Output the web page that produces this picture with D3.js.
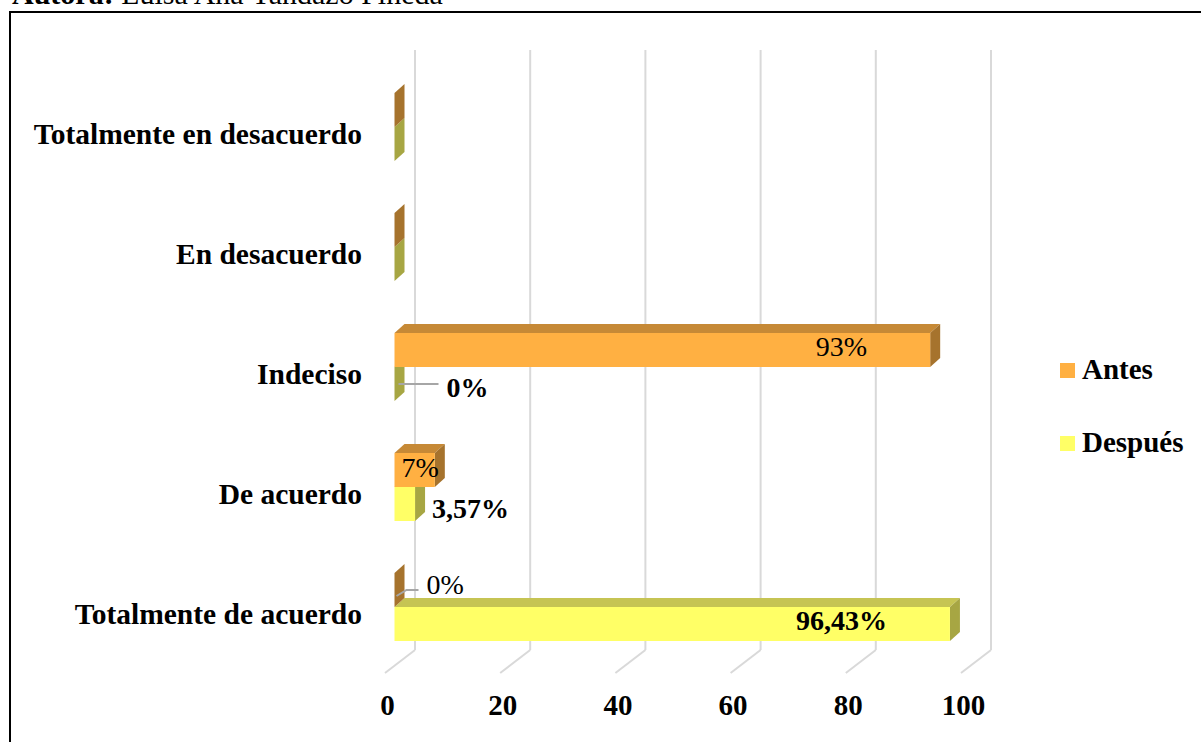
<!DOCTYPE html>
<html>
<head>
<meta charset="utf-8">
<script src="https://cdn.jsdelivr.net/npm/d3@7"></script>
<style>
  html, body { margin: 0; padding: 0; background: #fff; overflow: hidden; }
  svg { display: block; font-family: "Liberation Serif", "Times New Roman", serif; }
</style>
</head>
<body>
<div id="chart"></div>
<script>
// data
const categories = ["Totalmente en desacuerdo", "En desacuerdo", "Indeciso", "De acuerdo", "Totalmente de acuerdo"];
const antes = [0, 0, 93, 7, 0];
const despues = [0, 0, 0, 3.57, 96.43];
const antesLabels = [null, null, "93%", "7%", "0%"];
const despuesLabels = [null, null, "0%", "3,57%", "96,43%"];
const seriesNames = ["Antes", "Después"];
const xTicks = [0, 20, 40, 60, 80, 100];

const W = 1201, H = 742;

// colours: front / top / side of each bar
const colors = {
  Antes:   { front: "#FFB042", top: "#C68936", side: "#A6732D" },
  Después: { front: "#FFFF66", top: "#C6C453", side: "#A7A643" }
};

// 3d depth of the bars
const dx = 10, dy = -9;

const svg = d3.select("#chart").append("svg")
  .attr("width", W)
  .attr("height", H);

// header line (cut off at top, like the source page)
const head = svg.append("text")
  .attr("x", 12)
  .attr("y", 4)
  .style("font-size", "30px");
head.append("tspan").style("font-weight", "bold").text("Autora:");
head.append("tspan").text(" Luisa Ana Yandazo Pineda");

// frame
svg.append("rect")
  .attr("x", 10).attr("y", 12)
  .attr("width", 1400).attr("height", 900)
  .attr("fill", "none")
  .attr("stroke", "#000")
  .attr("stroke-width", 2);

// scales: x on the bars' front plane, back wall is shifted right
const x = d3.scaleLinear().domain([0, 100]).range([394.5, 970.5]);
const backShift = 20.5;
const y = d3.scaleBand().domain(categories).range([67, 667]).padding(0);
const barH = 34;

// back wall gridlines + floor diagonals
const grid = svg.append("g").attr("class", "grid");
grid.selectAll(".vline")
  .data(xTicks)
  .enter().append("line")
    .attr("x1", d => x(d) + backShift)
    .attr("x2", d => x(d) + backShift)
    .attr("y1", 50)
    .attr("y2", 650)
    .attr("stroke", "#D9D9D9")
    .attr("stroke-width", 2);
grid.selectAll(".dline")
  .data(xTicks)
  .enter().append("line")
    .attr("x1", d => x(d) + backShift)
    .attr("x2", d => x(d) + backShift - 30)
    .attr("y1", 650)
    .attr("y2", 673)
    .attr("stroke", "#D9D9D9")
    .attr("stroke-width", 2);

// x-axis labels
const xAxis = d3.axisBottom(x)
  .tickValues(xTicks)
  .tickSize(0)
  .tickPadding(0)
  .tickFormat(d3.format("d"));

const axisG = svg.append("g")
  .attr("transform", "translate(-7.5, 715)")
  .call(xAxis);
axisG.select(".domain").remove();
axisG.selectAll("text")
  .attr("y", 0)
  .attr("dy", 0)
  .attr("fill", "#000")
  .style("font-family", "'Liberation Serif', 'Times New Roman', serif")
  .style("font-size", "29px")
  .style("font-weight", "bold");

// category labels
svg.selectAll(".cat")
  .data(categories)
  .enter().append("text")
    .attr("class", "cat")
    .attr("x", 362)
    .attr("y", d => y(d) + y.bandwidth() / 2 + 17)
    .attr("text-anchor", "end")
    .style("font-size", "29.5px")
    .style("font-weight", "bold")
    .text(d => d);

// one row per category and series
const rows = [];
categories.forEach((c, i) => {
  rows.push({ cat: c, series: "Después", value: despues[i], label: despuesLabels[i] });
  rows.push({ cat: c, series: "Antes", value: antes[i], label: antesLabels[i] });
});

function barTop(d) {
  const mid = y(d.cat) + y.bandwidth() / 2;
  return d.series === "Antes" ? mid - barH : mid;
}

// draw Después first so Antes sits on top of it
const bars = svg.selectAll(".bar")
  .data(rows)
  .enter().append("g")
    .attr("class", "bar");

// top face
bars.filter(d => d.value > 0).append("path")
  .attr("d", d => {
    const x0 = x(0), x1 = x(d.value), t = barTop(d);
    return `M${x0},${t}L${x0 + dx},${t + dy}L${x1 + dx},${t + dy}L${x1},${t}Z`;
  })
  .attr("fill", d => colors[d.series].top);

// side face (also the sliver for zero bars)
bars.append("path")
  .attr("d", d => {
    const x1 = x(d.value), t = barTop(d), b = t + barH;
    return `M${x1},${t}L${x1 + dx},${t + dy}L${x1 + dx},${b + dy}L${x1},${b}Z`;
  })
  .attr("fill", d => colors[d.series].side);

// front face
bars.filter(d => d.value > 0).append("rect")
  .attr("x", x(0))
  .attr("y", d => barTop(d))
  .attr("width", d => x(d.value) - x(0))
  .attr("height", barH)
  .attr("fill", d => colors[d.series].front);

// value labels
const labelRows = rows.filter(d => d.label);
const lbl = svg.append("g").attr("class", "labels");

labelRows.forEach(d => {
  const t = barTop(d), b = t + barH;
  const bold = d.series === "Después";
  let tx, anchor = "start", by;

  if (d.value > 50) {
    // inside end
    tx = x(d.value) - 63; anchor = "end"; by = b - 11;
  } else if (d.value > 5) {
    tx = x(0) + 7; by = b - 10;
  } else if (d.value > 0) {
    tx = x(d.value) + 17; by = b - 3;
  } else {
    // zero bars get a small leader line
    if (d.series === "Después") {
      lbl.append("line")
        .attr("x1", x(0) + 4).attr("x2", x(0) + 44)
        .attr("y1", t + 17).attr("y2", t + 17)
        .attr("stroke", "#A6A6A6").attr("stroke-width", 2);
      tx = x(0) + 52; by = b - 4;
    } else {
      lbl.append("polyline")
        .attr("points", `${x(0) + 2},${t + 23} ${x(0) + 12},${t + 17} ${x(0) + 24},${t + 17}`)
        .attr("fill", "none")
        .attr("stroke", "#A6A6A6").attr("stroke-width", 2);
      tx = x(0) + 32; by = b - 13;
    }
  }

  lbl.append("text")
    .attr("x", tx)
    .attr("y", by)
    .attr("text-anchor", anchor)
    .style("font-size", "28px")
    .style("font-weight", bold ? "bold" : "normal")
    .text(d.label);
});

// legend
const legend = svg.append("g")
  .attr("transform", "translate(1060, 363)");
const item = legend.selectAll(".item")
  .data(seriesNames)
  .enter().append("g")
    .attr("class", "item")
    .attr("transform", (d, i) => `translate(0, ${i * 73})`);
item.append("rect")
  .attr("width", 15).attr("height", 15)
  .attr("fill", d => colors[d].front);
item.append("text")
  .attr("x", 22)
  .attr("y", 16)
  .style("font-size", "29px")
  .style("font-weight", "bold")
  .text(d => d);
</script>
</body>
</html>
